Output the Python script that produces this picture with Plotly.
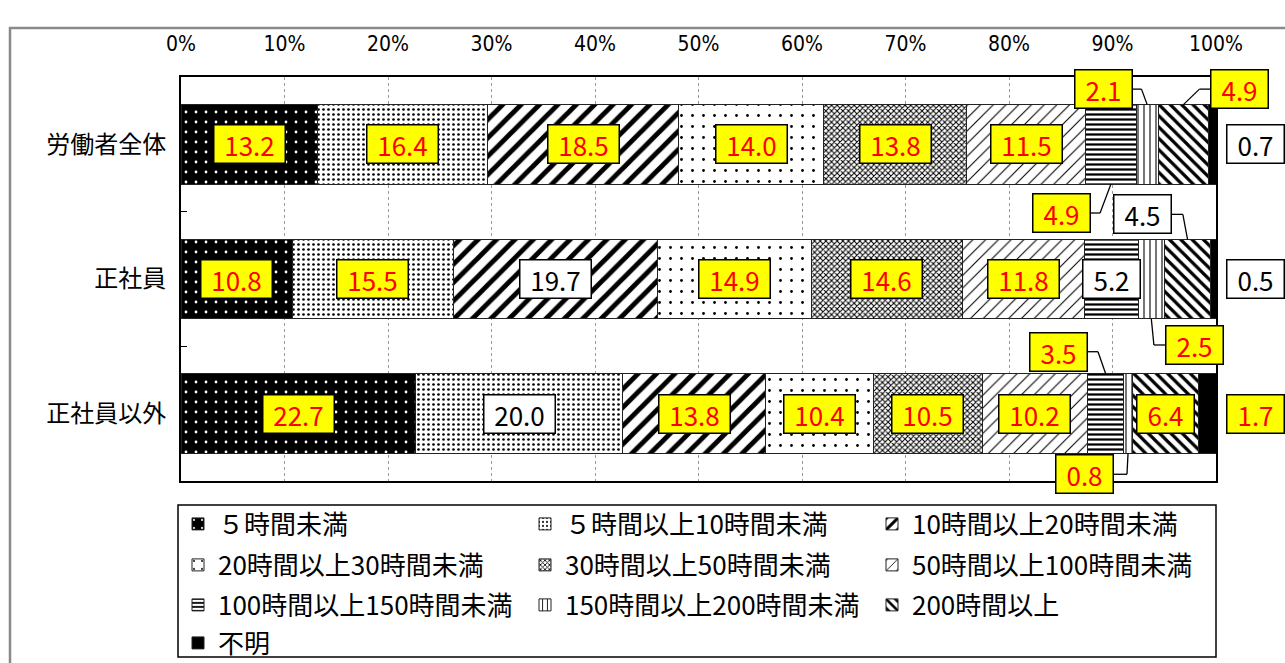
import plotly.graph_objects as go

# ---------------- data ----------------
categories = ["労働者全体", "正社員", "正社員以外"]
series_names = [
    "５時間未満", "５時間以上10時間未満", "10時間以上20時間未満",
    "20時間以上30時間未満", "30時間以上50時間未満", "50時間以上100時間未満",
    "100時間以上150時間未満", "150時間以上200時間未満", "200時間以上", "不明",
]
values_all = [13.2, 16.4, 18.5, 14.0, 13.8, 11.5, 4.9, 2.1, 4.9, 0.7]
values_regular = [10.8, 15.5, 19.7, 14.9, 14.6, 11.8, 5.2, 2.5, 4.5, 0.5]
values_nonregular = [22.7, 20.0, 13.8, 10.4, 10.5, 10.2, 3.5, 0.8, 6.4, 1.7]
x_tick_values = [0, 10, 20, 30, 40, 50, 60, 70, 80, 90, 100]
x_tick_labels = ["0%", "10%", "20%", "30%", "40%", "50%", "60%", "70%", "80%", "90%", "100%"]

rows = [values_all, values_regular, values_nonregular]

# ---------------- styles ----------------
JP = "Noto Sans CJK JP"
W, H = 1285, 663
L, R, T, B = 181, 69, 77, 182
PW, PH = W - L - R, H - T - B
BAR_W = 0.59
X_RANGE = [0, 100]

patterns = [
    dict(shape=".", bgcolor="black", fgcolor="white", size=10, solidity=0.06),
    dict(shape=".", bgcolor="white", fgcolor="black", size=5, solidity=0.22),
    dict(shape="/", bgcolor="white", fgcolor="black", size=13, solidity=0.38),
    dict(shape=".", bgcolor="white", fgcolor="black", size=11, solidity=0.05),
    dict(shape="x", bgcolor="white", fgcolor="black", size=4, solidity=0.45),
    dict(shape="/", bgcolor="white", fgcolor="black", size=9, solidity=0.12),
    dict(shape="-", bgcolor="white", fgcolor="black", size=5, solidity=0.45),
    dict(shape="|", bgcolor="white", fgcolor="black", size=6, solidity=0.18),
    dict(shape="\\", bgcolor="white", fgcolor="black", size=8, solidity=0.4),
    None,
]
legend_of = ["legend", "legend", "legend",
             "legend2", "legend2", "legend2",
             "legend3", "legend3", "legend3",
             "legend4"]

# label boxes drawn white (others yellow/red)
white_labels = {(0, 9), (1, 2), (1, 6), (1, 8), (1, 9), (2, 1)}
# callouts: (row, series) -> (label dx %, label dy rows, knee dx %)
callouts = {
    (0, 7): (-4.25, -0.41, -0.55),
    (0, 8): (5.45, -0.41, 1.55),
    (0, 6): (-4.75, 0.51, -1.05),
    (1, 8): (-4.35, -0.48, -0.45),
    (1, 7): (4.15, 0.49, 0.25),
    (2, 6): (-4.55, -0.46, -0.75),
    (2, 7): (-4.2, 0.45, -0.1),
}
outside_right_x = 103.8
half_box_px = 28


def xp(v):
    """data x -> paper x through the linear axis range"""
    return (v - X_RANGE[0]) / (X_RANGE[1] - X_RANGE[0])


fig = go.Figure()
for i, name in enumerate(series_names):
    marker = dict(color="black", line=dict(color="#222", width=1))
    if patterns[i] is not None:
        marker["pattern"] = dict(fillmode="replace", **patterns[i])
        marker["color"] = "white"
    fig.add_trace(go.Bar(
        y=categories, x=[r[i] for r in rows], name=name, orientation="h",
        width=BAR_W, marker=marker, legend=legend_of[i], hoverinfo="skip",
    ))

annotations = []
shapes = []
half_box = half_box_px / PW * (X_RANGE[1] - X_RANGE[0])
for r, vals in enumerate(rows):
    cum = 0.0
    for i, v in enumerate(vals):
        mid = cum + v / 2
        cum += v
        white = (r, i) in white_labels
        txt = f"{v:.1f}"
        style = dict(
            text=txt, showarrow=False, xref="paper", yref="y",
            xanchor="center", yanchor="middle",
            font=dict(family=JP, size=26, color="black" if white else "#ff0000"),
            bgcolor="white" if white else "#ffff00",
            bordercolor="black", borderwidth=1.5, borderpad=4,
            width=62 if len(txt) > 3 else 48, height=29,
        )
        if (r, i) in callouts:
            dx, dy, kdx = callouts[(r, i)]
            lx, ly = mid + dx, r + dy
            edge = lx + half_box if dx < 0 else lx - half_box
            kx = mid + kdx
            ty = r - BAR_W / 2 if dy < 0 else r + BAR_W / 2
            shapes.append(dict(type="line", xref="paper", yref="y", x0=xp(edge), y0=ly,
                               x1=xp(kx), y1=ly, line=dict(color="black", width=1.3)))
            shapes.append(dict(type="line", xref="paper", yref="y", x0=xp(kx), y0=ly,
                               x1=xp(mid), y1=ty, line=dict(color="black", width=1.3)))
            annotations.append(dict(x=xp(lx), y=ly, **style))
        elif i == len(vals) - 1:
            annotations.append(dict(x=xp(outside_right_x), y=r, **style))
        else:
            annotations.append(dict(x=xp(mid), y=r, **style))


def px_x(p):
    return (p - L) / PW


def px_y(p):
    return (H - B - p) / PH


# outer frame
shapes.append(dict(type="rect", xref="paper", yref="paper", x0=px_x(10), x1=px_x(1295),
                   y0=px_y(670), y1=px_y(28), line=dict(color="#8a8a8a", width=2.5), layer="below"))
# legend box
shapes.append(dict(type="rect", xref="paper", yref="paper", x0=px_x(178), x1=px_x(1216),
                   y0=px_y(657), y1=px_y(505), line=dict(color="black", width=1.5)))

legend_rows_y = [524, 565, 605, 643]
legend_common = dict(orientation="h", x=px_x(178), xanchor="left", yanchor="middle",
                     font=dict(family=JP, size=26, color="black"), bgcolor="rgba(0,0,0,0)",
                     entrywidth=302, entrywidthmode="pixels", itemwidth=30,
                     traceorder="normal", itemclick=False, itemdoubleclick=False)

fig.update_layout(
    width=W, height=H, barmode="stack",
    margin=dict(l=L, r=R, t=T, b=B, pad=0, autoexpand=False),
    paper_bgcolor="white", plot_bgcolor="white",
    font=dict(family=JP, color="black"),
    showlegend=True,
    legend=dict(y=px_y(legend_rows_y[0]), **legend_common),
    legend2=dict(y=px_y(legend_rows_y[1]), **legend_common),
    legend3=dict(y=px_y(legend_rows_y[2]), **legend_common),
    legend4=dict(y=px_y(legend_rows_y[3]), **legend_common),
    xaxis=dict(
        range=X_RANGE, side="top", tickvals=x_tick_values, ticktext=x_tick_labels,
        tickfont=dict(family="DejaVu Sans Condensed, " + JP, size=21, color="black"),
        ticks="", ticklabelstandoff=16,
        showgrid=True, gridcolor="#9a9a9a", gridwidth=1, griddash="dot",
        showline=True, linecolor="black", linewidth=2, mirror=True, zeroline=False,
    ),
    yaxis=dict(
        type="category", categoryorder="array", categoryarray=categories,
        autorange=False, range=[2.5, -0.5],
        tickfont=dict(family=JP, size=24, color="black"),
        tickson="boundaries", ticks="inside", ticklen=6, tickcolor="black", tickwidth=1,
        ticklabelstandoff=8,
        showline=True, linecolor="black", linewidth=2, mirror=True, showgrid=False,
    ),
    annotations=annotations, shapes=shapes,
)

fig.write_html("out.html")
